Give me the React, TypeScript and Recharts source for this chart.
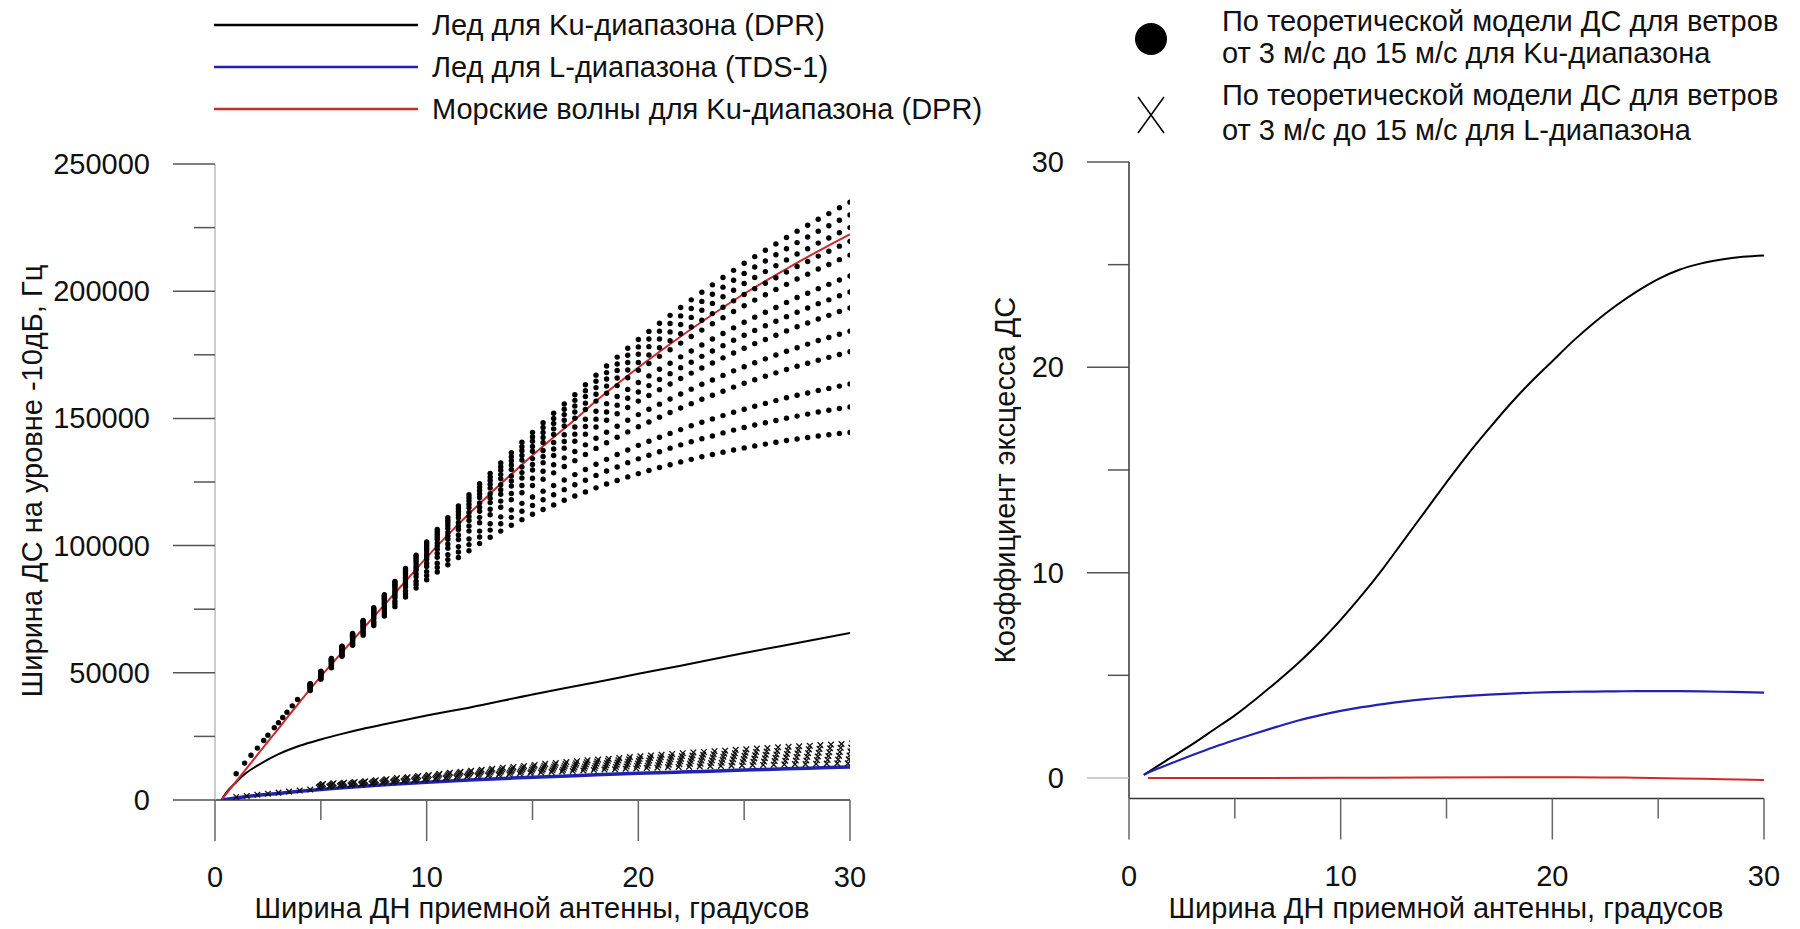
import { ComposedChart, Line, Scatter, XAxis, YAxis } from 'recharts';

const FONT = '"Liberation Sans", Arial, sans-serif';
const FS = 29;

// ---------- left panel: spectrum width at -10 dB (values in kHz, plotted in Hz) ----------
const iceKuX = [0.3, 0.5, 1, 1.5, 2, 3, 4, 5, 6, 7, 8, 10, 12, 15, 18, 20, 22, 25, 28, 30];
const iceKuY = [0, 2.5, 7, 10.8, 13.5, 18, 21.3, 23.8, 26, 28, 29.8, 33.2, 36.3, 41.5, 46.3, 49.6, 52.8, 57.8, 62.5, 65.7];

const iceLX = [0.3, 1, 2, 3, 4, 5, 6, 8, 10, 12, 14, 16, 18, 20, 22, 24, 26, 28, 30];
const iceLY = [0, 0.8, 1.8, 2.6, 3.4, 4.1, 4.8, 6.0, 7.0, 7.9, 8.6, 9.2, 9.9, 10.5, 11.0, 11.5, 12.0, 12.5, 13.0];

const seaKuX = [0.3, 1, 2, 3, 4, 5, 6, 7, 8, 9, 10, 11, 12, 13, 14, 15, 16, 17, 18, 19, 20, 21, 22, 23, 24, 25, 26, 27, 28, 29, 30];
const seaKuY = [0, 7.3, 17.7, 28.1, 38.5, 48.6, 58, 67.4, 76.7, 86, 95.4, 104.2, 112.5, 120.4, 128, 135.5, 142.6, 149.5, 156.8, 163.5, 170, 176.2, 182.2, 188, 193.6, 199, 204, 208.8, 213.5, 218, 222.4];

// theoretical model, Ku band: lone dots at small widths, then columns of 13 wind speeds
const kuSingleX = [1.0, 1.4, 1.7, 2.0, 2.3, 2.5, 2.8, 3.0, 3.2, 3.4, 3.65, 3.9];
const kuSingleY = [10.3, 14.5, 17.6, 20.4, 23.4, 25.5, 28.4, 30.4, 32.4, 34.5, 37.0, 39.5];

const kuX = [4.5, 5, 5.5, 6, 6.5, 7, 7.5, 8, 8.5, 9, 9.5, 10, 10.5, 11, 11.5, 12, 12.5, 13, 13.5, 14, 14.5, 15, 15.5, 16, 16.5, 17, 17.5, 18, 18.5, 19, 19.5, 20, 20.5, 21, 21.5, 22, 22.5, 23, 23.5, 24, 24.5, 25, 25.5, 26, 26.5, 27, 27.5, 28, 28.5, 29, 29.5, 30];
const kuCols = [
  [45.7, 45.6, 45.4, 45.2, 45.1, 44.8, 44.6, 44.5, 44.2, 43.9, 43.6, 43.3, 43.0],
  [50.6, 50.4, 50.3, 50.1, 49.9, 49.6, 49.4, 49.2, 48.9, 48.6, 48.2, 47.8, 47.5],
  [55.6, 55.4, 55.2, 55.0, 54.8, 54.5, 54.2, 53.9, 53.6, 53.3, 52.8, 52.4, 52.0],
  [60.5, 60.3, 60.1, 59.8, 59.6, 59.2, 58.9, 58.7, 58.3, 57.9, 57.3, 56.9, 56.5],
  [65.5, 65.2, 65.0, 64.7, 64.4, 64.0, 63.7, 63.3, 62.9, 62.5, 61.8, 61.3, 60.8],
  [70.6, 70.3, 70.0, 69.6, 69.3, 68.7, 68.3, 67.9, 67.4, 66.8, 66.0, 65.4, 64.8],
  [75.6, 75.2, 74.8, 74.4, 74.0, 73.4, 72.9, 72.4, 71.7, 71.1, 70.1, 69.4, 68.6],
  [80.7, 80.2, 79.8, 79.3, 78.8, 78.0, 77.4, 76.8, 76.0, 75.2, 74.1, 73.2, 72.3],
  [85.9, 85.4, 84.8, 84.2, 83.6, 82.7, 82.0, 81.3, 80.4, 79.5, 78.1, 77.1, 76.0],
  [91.0, 90.4, 89.8, 89.1, 88.4, 87.4, 86.6, 85.8, 84.7, 83.7, 82.2, 81.0, 79.8],
  [96.2, 95.5, 94.8, 94.0, 93.2, 92.1, 91.2, 90.3, 89.0, 87.8, 86.0, 84.7, 83.3],
  [101.4, 100.6, 99.8, 98.9, 98.0, 96.7, 95.6, 94.6, 93.1, 91.8, 89.7, 88.2, 86.6],
  [106.3, 105.4, 104.5, 103.5, 102.5, 101.0, 99.8, 98.6, 96.9, 95.4, 93.1, 91.4, 89.6],
  [111.0, 110.0, 109.0, 107.9, 106.7, 105.1, 103.8, 102.5, 100.6, 99.0, 96.4, 94.5, 92.5],
  [115.6, 114.5, 113.4, 112.1, 110.9, 109.1, 107.7, 106.3, 104.2, 102.4, 99.6, 97.5, 95.3],
  [120.0, 118.8, 117.6, 116.3, 114.9, 113.0, 111.4, 109.9, 107.7, 105.7, 102.6, 100.4, 98.0],
  [124.3, 123.0, 121.7, 120.3, 118.9, 116.8, 115.1, 113.5, 111.1, 109.0, 105.7, 103.4, 100.8],
  [128.4, 127.0, 125.6, 124.1, 122.6, 120.4, 118.6, 116.9, 114.3, 112.1, 108.6, 106.1, 103.3],
  [132.5, 131.0, 129.6, 127.9, 126.3, 123.9, 122.0, 120.2, 117.5, 115.1, 111.3, 108.6, 105.7],
  [136.5, 134.9, 133.4, 131.7, 129.9, 127.4, 125.4, 123.4, 120.5, 118.0, 114.0, 111.1, 108.0],
  [140.6, 138.9, 137.3, 135.4, 133.6, 130.9, 128.7, 126.6, 123.6, 120.8, 116.6, 113.5, 110.2],
  [144.5, 142.7, 141.0, 139.0, 137.1, 134.2, 131.9, 129.7, 126.5, 123.6, 119.1, 115.8, 112.3],
  [148.3, 146.4, 144.5, 142.5, 140.5, 137.4, 135.0, 132.6, 129.2, 126.1, 121.4, 118.0, 114.2],
  [152.0, 150.0, 148.0, 145.9, 143.7, 140.5, 138.0, 135.4, 131.8, 128.6, 123.6, 120.0, 116.0],
  [155.7, 153.6, 151.5, 149.3, 147.0, 143.6, 140.9, 138.3, 134.5, 131.1, 125.8, 122.0, 117.8],
  [159.3, 157.1, 154.9, 152.5, 150.1, 146.6, 143.8, 141.0, 137.0, 133.4, 127.9, 123.9, 119.5],
  [163.2, 160.9, 158.6, 156.0, 153.5, 149.7, 146.8, 143.8, 139.6, 135.8, 129.9, 125.7, 121.1],
  [167.0, 164.6, 162.1, 159.5, 156.8, 152.8, 149.7, 146.6, 142.2, 138.2, 132.0, 127.6, 122.7],
  [170.6, 168.0, 165.5, 162.7, 159.9, 155.8, 152.5, 149.3, 144.6, 140.4, 133.9, 129.3, 124.2],
  [174.1, 171.4, 168.8, 165.9, 162.9, 158.6, 155.2, 151.8, 146.9, 142.6, 135.8, 130.9, 125.6],
  [177.6, 174.8, 172.0, 169.0, 166.0, 161.4, 157.9, 154.3, 149.3, 144.7, 137.6, 132.6, 127.0],
  [181.0, 178.1, 175.2, 172.0, 168.9, 164.1, 160.4, 156.8, 151.5, 146.7, 139.4, 134.1, 128.3],
  [184.2, 181.2, 178.2, 174.9, 171.6, 166.7, 162.9, 159.0, 153.6, 148.6, 141.0, 135.5, 129.5],
  [187.4, 184.3, 181.2, 177.8, 174.4, 169.3, 165.3, 161.3, 155.6, 150.5, 142.6, 136.9, 130.7],
  [190.5, 187.3, 184.0, 180.5, 177.0, 171.7, 167.6, 163.5, 157.6, 152.3, 144.1, 138.3, 131.8],
  [193.6, 190.3, 186.9, 183.3, 179.6, 174.2, 169.9, 165.7, 159.6, 154.1, 145.6, 139.6, 132.9],
  [196.6, 193.2, 189.7, 185.9, 182.2, 176.5, 172.1, 167.8, 161.5, 155.8, 147.1, 140.8, 133.9],
  [199.6, 196.0, 192.5, 188.6, 184.7, 178.9, 174.4, 169.8, 163.4, 157.5, 148.5, 142.0, 134.9],
  [202.5, 198.8, 195.2, 191.2, 187.2, 181.2, 176.5, 171.8, 165.1, 159.1, 149.8, 143.1, 135.8],
  [205.4, 201.6, 197.8, 193.7, 189.6, 183.4, 178.6, 173.8, 166.9, 160.7, 151.1, 144.3, 136.7],
  [208.2, 204.3, 200.4, 196.2, 192.0, 185.6, 180.7, 175.7, 168.7, 162.3, 152.4, 145.4, 137.6],
  [211.0, 207.0, 203.0, 198.7, 194.3, 187.8, 182.7, 177.6, 170.3, 163.8, 153.6, 146.4, 138.4],
  [213.6, 209.5, 205.4, 201.0, 196.5, 189.8, 184.6, 179.4, 171.9, 165.2, 154.8, 147.4, 139.2],
  [216.1, 211.9, 207.7, 203.1, 198.6, 191.7, 186.4, 181.0, 173.4, 166.6, 155.9, 148.3, 139.9],
  [218.6, 214.3, 210.0, 205.3, 200.7, 193.6, 188.2, 182.7, 174.9, 167.9, 157.0, 149.2, 140.6],
  [221.1, 216.7, 212.3, 207.5, 202.7, 195.6, 190.0, 184.4, 176.4, 169.2, 158.1, 150.1, 141.3],
  [223.6, 219.1, 214.6, 209.7, 204.8, 197.5, 191.7, 186.0, 177.8, 170.5, 159.1, 150.9, 141.9],
  [225.9, 221.3, 216.7, 211.7, 206.7, 199.2, 193.4, 187.5, 179.2, 171.7, 160.0, 151.7, 142.5],
  [228.3, 223.6, 218.9, 213.8, 208.7, 201.0, 195.1, 189.1, 180.6, 172.9, 161.0, 152.5, 143.1],
  [230.5, 225.7, 220.9, 215.7, 210.5, 202.7, 196.6, 190.5, 181.8, 174.0, 161.8, 153.2, 143.6],
  [232.8, 227.9, 223.0, 217.7, 212.4, 204.4, 198.2, 192.0, 183.1, 175.1, 162.7, 153.9, 144.1],
  [235.0, 230.0, 225.0, 219.6, 214.2, 206.0, 199.7, 193.4, 184.3, 176.2, 163.5, 154.5, 144.5],
];

// theoretical model, L band (crosses); each cluster leans right going up
const lSingleX = [1, 1.5, 2, 2.5, 3, 3.5, 4, 4.5];
const lSingleY = [1.2, 1.6, 2.1, 2.5, 2.9, 3.3, 3.7, 4.1];

const lX = [5, 5.5, 6, 6.5, 7, 7.5, 8, 8.5, 9, 9.5, 10, 10.5, 11, 11.5, 12, 12.5, 13, 13.5, 14, 14.5, 15, 15.5, 16, 16.5, 17, 17.5, 18, 18.5, 19, 19.5, 20, 20.5, 21, 21.5, 22, 22.5, 23, 23.5, 24, 24.5, 25, 25.5, 26, 26.5, 27, 27.5, 28, 28.5, 29, 29.5, 30];
const lRowShift = [-0.1, -0.06, -0.02, 0.02, 0.06, 0.1];
const lCols = [
  [4.9, 5.2, 5.5, 5.7, 6.0, 6.3], [5.2, 5.5, 5.7, 6.0, 6.3, 6.6], [5.5, 5.8, 6.0, 6.3, 6.5, 6.8],
  [5.8, 6.1, 6.3, 6.6, 6.8, 7.1], [6.1, 6.4, 6.6, 6.9, 7.1, 7.4], [6.4, 6.7, 7.0, 7.2, 7.5, 7.8],
  [6.7, 7.0, 7.3, 7.6, 7.9, 8.2], [7.0, 7.3, 7.6, 7.9, 8.2, 8.6], [7.3, 7.6, 7.9, 8.3, 8.6, 8.9],
  [7.6, 8.0, 8.3, 8.7, 9.0, 9.4], [7.9, 8.3, 8.7, 9.0, 9.4, 9.8], [8.2, 8.6, 9.0, 9.4, 9.8, 10.3],
  [8.5, 8.9, 9.4, 9.8, 10.3, 10.7], [8.8, 9.3, 9.7, 10.2, 10.6, 11.1], [9.1, 9.6, 10.1, 10.5, 11.0, 11.5],
  [9.4, 9.9, 10.4, 10.9, 11.4, 11.9], [9.6, 10.1, 10.7, 11.2, 11.8, 12.3], [9.9, 10.4, 11.0, 11.5, 12.1, 12.7],
  [10.1, 10.7, 11.3, 11.8, 12.4, 13.0], [10.4, 11.0, 11.6, 12.2, 12.8, 13.4], [10.6, 11.2, 11.9, 12.5, 13.2, 13.8],
  [10.8, 11.5, 12.1, 12.8, 13.5, 14.2], [11.0, 11.7, 12.4, 13.1, 13.8, 14.5], [11.2, 11.9, 12.7, 13.4, 14.1, 14.9],
  [11.4, 12.2, 12.9, 13.7, 14.4, 15.2], [11.6, 12.4, 13.2, 14.0, 14.8, 15.6], [11.8, 12.6, 13.4, 14.3, 15.1, 15.9],
  [12.0, 12.8, 13.7, 14.5, 15.4, 16.2], [12.1, 13.0, 13.9, 14.7, 15.6, 16.5], [12.3, 13.2, 14.1, 15.0, 16.0, 16.9],
  [12.4, 13.4, 14.3, 15.3, 16.2, 17.2], [12.6, 13.5, 14.5, 15.5, 16.5, 17.5], [12.7, 13.7, 14.7, 15.8, 16.8, 17.8],
  [12.9, 13.9, 14.9, 16.0, 17.0, 18.1], [13.0, 14.1, 15.2, 16.2, 17.3, 18.4], [13.1, 14.2, 15.3, 16.4, 17.5, 18.7],
  [13.2, 14.3, 15.5, 16.6, 17.8, 18.9], [13.3, 14.5, 15.6, 16.8, 18.0, 19.2], [13.4, 14.6, 15.8, 17.0, 18.2, 19.4],
  [13.5, 14.7, 16.0, 17.2, 18.4, 19.7], [13.6, 14.9, 16.1, 17.4, 18.6, 19.9], [13.7, 15.0, 16.3, 17.6, 18.9, 20.2],
  [13.8, 15.1, 16.4, 17.8, 19.1, 20.4], [13.9, 15.3, 16.6, 17.9, 19.3, 20.7], [14.0, 15.4, 16.8, 18.1, 19.5, 20.9],
  [14.1, 15.5, 16.9, 18.3, 19.7, 21.1], [14.1, 15.5, 17.0, 18.4, 19.9, 21.3], [14.2, 15.7, 17.1, 18.6, 20.1, 21.6],
  [14.3, 15.8, 17.3, 18.8, 20.3, 21.8], [14.4, 15.9, 17.4, 18.9, 20.5, 22.0], [14.4, 16.0, 17.5, 19.1, 20.6, 22.2],
];

// ---------- right panel: excess (kurtosis) coefficient ----------
const excessX = [0.7, 1, 2, 3, 4, 5, 6, 7, 8, 9, 10, 11, 12, 13, 14, 15, 16, 17, 18, 19, 20, 21, 22, 23, 24, 25, 26, 27, 28, 29, 30];
const excessIceKu = [0.15, 0.35, 1.0, 1.65, 2.35, 3.05, 3.85, 4.7, 5.6, 6.6, 7.7, 8.9, 10.2, 11.6, 13.0, 14.4, 15.75, 17.0, 18.2, 19.3, 20.3, 21.3, 22.2, 23.0, 23.7, 24.3, 24.75, 25.05, 25.25, 25.38, 25.45];
const excessIceL = [0.15, 0.3, 0.72, 1.12, 1.5, 1.85, 2.18, 2.5, 2.8, 3.05, 3.27, 3.45, 3.6, 3.73, 3.84, 3.93, 4.0, 4.06, 4.11, 4.15, 4.18, 4.2, 4.21, 4.22, 4.23, 4.23, 4.23, 4.22, 4.2, 4.18, 4.16];
const excessSeaX = [0.9, 3, 6, 10, 14, 18, 21, 24, 26, 28, 30];
const excessSeaKu = [0, 0, 0, 0.01, 0.02, 0.04, 0.04, 0.01, -0.02, -0.06, -0.1];

const xTicks = [0, 5, 10, 15, 20, 25, 30];
const leftYTicks = [0, 25000, 50000, 75000, 100000, 125000, 150000, 175000, 200000, 225000, 250000];
const rightYTicks = [0, 5, 10, 15, 20, 25, 30];

const BLUE = '#2222b0';
const RED = '#cc2a2a';

const pts = (xs: number[], ys: number[], k = 1) => xs.map((x, i) => ({ x, y: ys[i] * k }));

const iceKuLine = pts(iceKuX, iceKuY, 1000);
const iceLLine = pts(iceLX, iceLY, 1000);
const seaKuLine = pts(seaKuX, seaKuY, 1000);
const kuDots = [
  ...pts(kuSingleX, kuSingleY, 1000),
  ...kuX.flatMap((x, i) => kuCols[i].map((v) => ({ x, y: v * 1000 }))),
];
const lMarks = [
  ...pts(lSingleX, lSingleY, 1000),
  ...lX.flatMap((x, i) => lCols[i].map((v, j) => ({ x: x + lRowShift[j], y: v * 1000 }))),
];

const KuDot = (p: any) => <circle cx={p.cx} cy={p.cy} r={2.7} fill="#000" />;
const LCross = (p: any) => {
  const s = 2.8;
  return (
    <path
      d={`M${p.cx - s},${p.cy - s}L${p.cx + s},${p.cy + s}M${p.cx - s},${p.cy + s}L${p.cx + s},${p.cy - s}`}
      stroke="#111"
      strokeWidth={1.3}
      fill="none"
    />
  );
};

const label = (x: number, y: number, v: number | string, anchor: 'start' | 'middle' | 'end') => (
  <text x={x} y={y} textAnchor={anchor} dominantBaseline="central" fontSize={FS} fontFamily={FONT} fill="#111">
    {v}
  </text>
);

const XTick = (p: any) => {
  const v = p.payload.value;
  const major = v % 10 === 0;
  return (
    <g>
      <line x1={p.x} x2={p.x} y1={p.y} y2={p.y + (major ? 41 : 20)} stroke="#666" strokeWidth={1.5} />
      {major && label(p.x, p.y + 77, v, 'middle')}
    </g>
  );
};

const LeftYTick = (p: any) => {
  const v = p.payload.value;
  const major = v % 50000 === 0;
  return (
    <g>
      <line x1={p.x - (major ? 42 : 21)} x2={p.x} y1={p.y} y2={p.y} stroke="#555" strokeWidth={1.5} />
      {major && label(p.x - 65, p.y, v, 'end')}
    </g>
  );
};

const RightYTick = (p: any) => {
  const v = p.payload.value;
  const major = v % 10 === 0;
  return (
    <g>
      <line x1={p.x - (major ? 42 : 21)} x2={p.x} y1={p.y} y2={p.y} stroke={v === 0 ? '#bbb' : '#555'} strokeWidth={1.5} />
      {major && label(p.x - 65, p.y, v, 'end')}
    </g>
  );
};

export default function App() {
  return (
    <div style={{ position: 'absolute', left: 0, top: 0, width: 1800, height: 929, background: '#fff', fontFamily: FONT }}>
      <div style={{ position: 'absolute', left: 0, top: 0 }}>
        <ComposedChart width={900} height={929} margin={{ top: 164, right: 50, bottom: 0, left: 0 }}>
          <XAxis
            type="number"
            dataKey="x"
            domain={[0, 30]}
            ticks={xTicks}
            interval={0}
            allowDataOverflow
            height={129}
            tickSize={0}
            tickMargin={0}
            tickLine={false}
            axisLine={{ stroke: '#333', strokeWidth: 1.5 }}
            tick={(p: any) => <XTick {...p} />}
          />
          <YAxis
            type="number"
            dataKey="y"
            domain={[0, 250000]}
            ticks={leftYTicks}
            interval={0}
            allowDataOverflow
            width={215}
            tickSize={0}
            tickMargin={0}
            tickLine={false}
            axisLine={{ stroke: '#bbb', strokeWidth: 1.5 }}
            tick={(p: any) => <LeftYTick {...p} />}
          />
          <Scatter data={lMarks} shape={LCross} isAnimationActive={false} />
          <Scatter data={kuDots} shape={KuDot} isAnimationActive={false} />
          <Line data={iceKuLine} dataKey="y" type="monotone" stroke="#000" strokeWidth={2} dot={false} isAnimationActive={false} />
          <Line data={iceLLine} dataKey="y" type="monotone" stroke={BLUE} strokeWidth={3.5} dot={false} isAnimationActive={false} />
          <Line data={seaKuLine} dataKey="y" type="monotone" stroke={RED} strokeWidth={2} dot={false} isAnimationActive={false} />
        </ComposedChart>
      </div>

      <div style={{ position: 'absolute', left: 900, top: 0 }}>
        <ComposedChart width={900} height={929} margin={{ top: 162, right: 36, bottom: 0, left: 0 }}>
          <XAxis
            type="number"
            dataKey="x"
            domain={[0, 30]}
            ticks={xTicks}
            interval={0}
            allowDataOverflow
            height={130.5}
            tickSize={0}
            tickMargin={0}
            tickLine={false}
            axisLine={{ stroke: '#333', strokeWidth: 1.5 }}
            tick={(p: any) => <XTick {...p} />}
          />
          <YAxis
            type="number"
            dataKey="y"
            domain={[-1, 30]}
            ticks={rightYTicks}
            interval={0}
            allowDataOverflow
            width={229}
            tickSize={0}
            tickMargin={0}
            tickLine={false}
            axisLine={{ stroke: '#333', strokeWidth: 1.5 }}
            tick={(p: any) => <RightYTick {...p} />}
          />
          <Line data={pts(excessX, excessIceKu)} dataKey="y" type="monotone" stroke="#000" strokeWidth={2} dot={false} isAnimationActive={false} />
          <Line data={pts(excessX, excessIceL)} dataKey="y" type="monotone" stroke={BLUE} strokeWidth={2.2} dot={false} isAnimationActive={false} />
          <Line data={pts(excessSeaX, excessSeaKu)} dataKey="y" type="monotone" stroke={RED} strokeWidth={2} dot={false} isAnimationActive={false} />
        </ComposedChart>
      </div>

      <svg width={1800} height={929} style={{ position: 'absolute', left: 0, top: 0, pointerEvents: 'none' }}>
        {/* left legend */}
        <line x1={214} x2={418} y1={25} y2={25} stroke="#000" strokeWidth={2.5} />
        <line x1={214} x2={418} y1={67} y2={67} stroke={BLUE} strokeWidth={2.5} />
        <line x1={214} x2={418} y1={109} y2={109} stroke={RED} strokeWidth={2.5} />
        {label(432, 25, 'Лед для Ku-диапазона (DPR)', 'start')}
        {label(432, 67, 'Лед для L-диапазона (TDS-1)', 'start')}
        {label(432, 109, 'Морские волны для Ku-диапазона (DPR)', 'start')}

        {/* right legend */}
        <circle cx={1151} cy={39} r={16} fill="#000" />
        <path d="M1138,97L1164,133M1138,133L1164,97" stroke="#000" strokeWidth={1.5} fill="none" />
        {label(1222, 21, 'По теоретической модели ДС для ветров', 'start')}
        {label(1222, 53, 'от 3 м/с до 15 м/с для Ku-диапазона', 'start')}
        {label(1222, 95, 'По теоретической модели ДС для ветров', 'start')}
        {label(1222, 130, 'от 3 м/с до 15 м/с для L-диапазона', 'start')}

        {/* axis titles */}
        {label(532, 908, 'Ширина ДН приемной антенны, градусов', 'middle')}
        {label(1446, 908, 'Ширина ДН приемной антенны, градусов', 'middle')}
        <g transform="rotate(-90, 32, 481)">{label(32, 481, 'Ширина ДС на уровне -10дБ, Гц', 'middle')}</g>
        <g transform="rotate(-90, 1005, 480)">{label(1005, 480, 'Коэффициент эксцесса ДС', 'middle')}</g>
      </svg>
    </div>
  );
}
